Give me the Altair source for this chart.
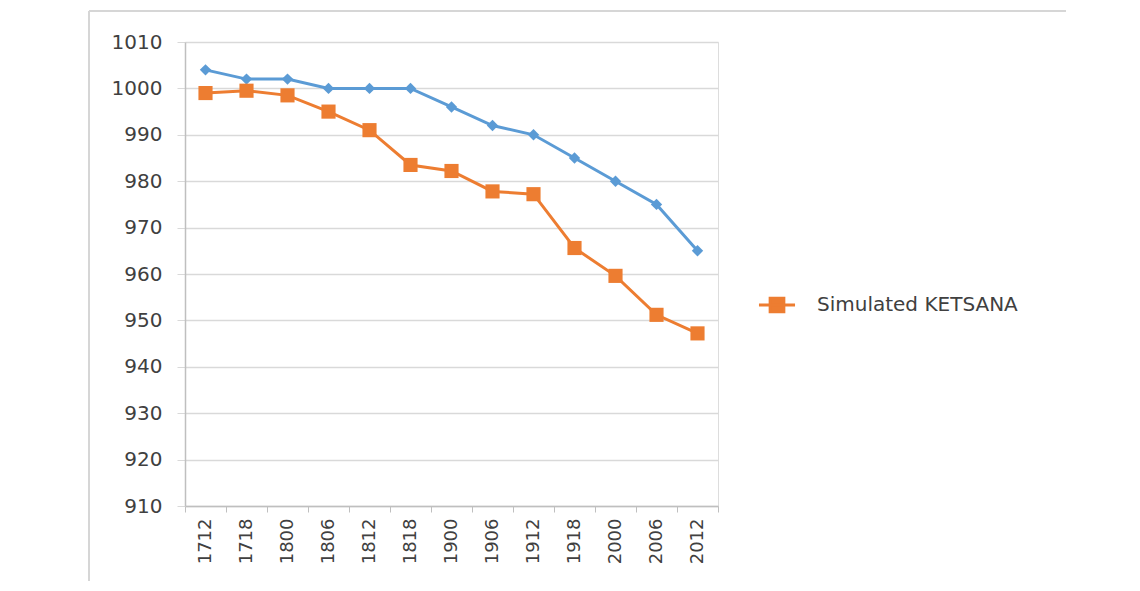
import altair as alt
import pandas as pd

years = ["1712", "1718", "1800", "1806", "1812", "1818", "1900", "1906", "1912", "1918", "2000", "2006", "2012"]
observed = [1004, 1002, 1002, 1000, 1000, 1000, 996, 992, 990, 985, 980, 975, 965]
simulated = [999.0, 999.5, 998.5, 995.0, 991.0, 983.5, 982.2, 977.8, 977.2, 965.6, 959.6, 951.2, 947.2]
y_ticks = [910, 920, 930, 940, 950, 960, 970, 980, 990, 1000, 1010]
sim_name = "Simulated KETSANA"

BLUE = "#5B9BD5"
ORANGE = "#ED7D31"
FONT = "DejaVu Sans"
TXT = "#404040"
FRAME = "#d6d6d6"

df_obs = pd.DataFrame({"year": years, "value": observed})
df_sim = pd.DataFrame({"year": years, "value": simulated, "series": [sim_name] * len(years)})

x_enc = alt.X(
    "year:N", sort=years, title=None,
    scale=alt.Scale(paddingInner=0, paddingOuter=0),
    axis=alt.Axis(labelAngle=270, labelFontSize=18, labelColor=TXT, labelFont=FONT,
                  tickBand="extent", tickSize=6, tickColor="#bfbfbf", domainColor="#bfbfbf",
                  domainWidth=1.5, labelPadding=6, grid=False, labelBaseline="middle", labelAlign="right"),
)
y_enc = alt.Y(
    "value:Q", title=None,
    scale=alt.Scale(domain=[910, 1010], nice=False, zero=False),
    axis=alt.Axis(values=y_ticks, format="d", labelFontSize=20, labelColor=TXT, labelFont=FONT,
                  tickSize=8, tickColor="#d9d9d9", domainColor="#bfbfbf", domainWidth=1.5,
                  gridColor="#d9d9d9", gridWidth=1.5, labelPadding=15),
)

obs = alt.Chart(df_obs).mark_line(
    color=BLUE, strokeWidth=3,
    point=alt.OverlayMarkDef(shape="diamond", size=130, color=BLUE, filled=True, opacity=1),
).encode(x=x_enc, y=y_enc)

sim = alt.Chart(df_sim).mark_line(
    strokeWidth=3,
    point=alt.OverlayMarkDef(shape="square", size=200, color=ORANGE, filled=True, opacity=1),
).encode(
    x=x_enc, y=y_enc,
    color=alt.Color(
        "series:N",
        scale=alt.Scale(domain=[sim_name], range=[ORANGE]),
        legend=alt.Legend(
            title=None, orient="none", legendX=572, legendY=243,
            symbolType="M-1,0L1,0M-0.38,-0.38L0.38,-0.38L0.38,0.38L-0.38,0.38Z",
            symbolSize=1300, symbolStrokeWidth=3, symbolFillColor=ORANGE, symbolStrokeColor=ORANGE,
            labelFontSize=20, labelColor=TXT, labelFont=FONT, labelOffset=20, labelLimit=400,
        ),
    ),
)

# light picture frame (left and top edges), as in the reference image
frame_top = alt.Chart(pd.DataFrame({"k": [0]})).mark_rule(color=FRAME, strokeWidth=2).encode(
    x=alt.value(-96), x2=alt.value(881), y=alt.value(-31)
)
frame_left = alt.Chart(pd.DataFrame({"k": [0]})).mark_rule(color=FRAME, strokeWidth=2).encode(
    x=alt.value(-96), y=alt.value(-31), y2=alt.value(549)
)

chart = (
    alt.layer(frame_top, frame_left, obs, sim)
    .properties(width=533, height=464, autosize=alt.AutoSizeParams(type="none"),
                padding={"left": 177, "top": 34, "right": 400, "bottom": 75})
    .configure_view(stroke=None)
    .configure(background="white")
)

chart.save("out.html", embed_options={"renderer": "svg", "actions": False})
